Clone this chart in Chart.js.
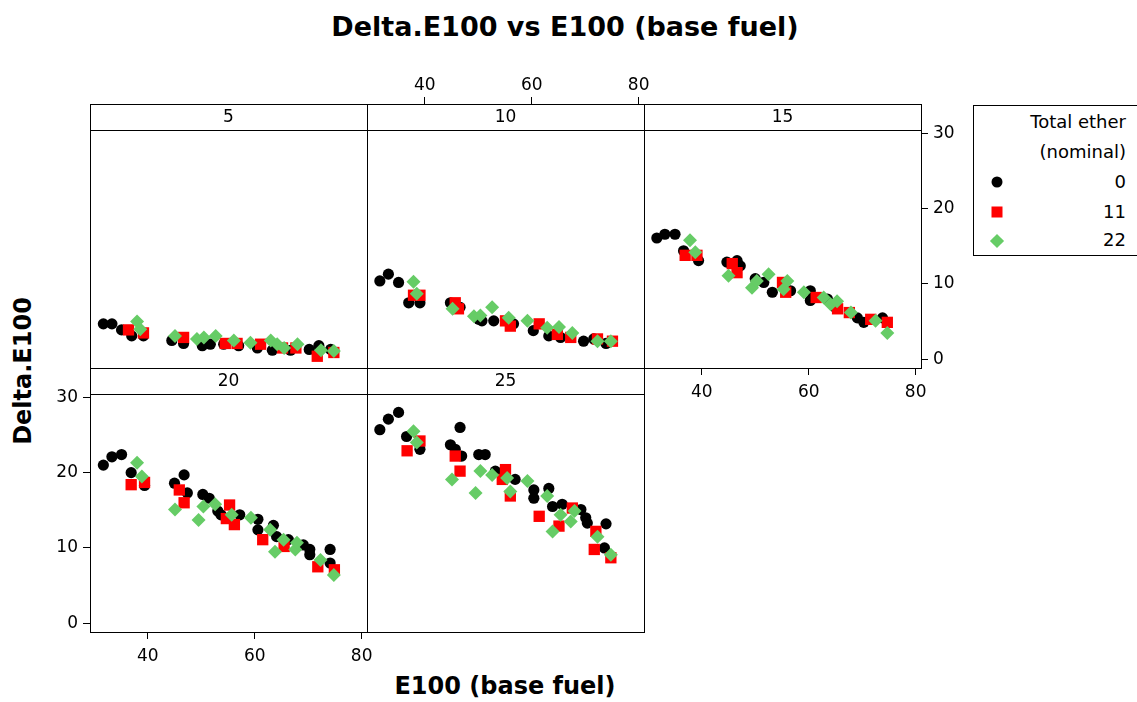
<!DOCTYPE html>
<html>
<head>
<meta charset="utf-8">
<script src="https://cdn.jsdelivr.net/npm/chart.js@4.4.1/dist/chart.umd.min.js"></script>
<style>
    body { margin: 0; width: 1137px; height: 702px; overflow: hidden; background: #fff; position: relative; font-family: "DejaVu Sans", sans-serif; color: #000; }
    canvas { position: absolute; }
    .title { position: absolute; font-weight: bold; white-space: nowrap; transform: translate(-50%, -50%); }
    #legend { position: absolute; left: 973px; top: 105px; width: 170px; height: 151px; border: 1px solid #000; box-sizing: border-box; }
    #legend .row { position: absolute; right: 16px; height: 22px; line-height: 22px; font-size: 18px; white-space: nowrap; text-align: right; }
    #legend .sym { position: absolute; transform: translate(-50%, -50%); }
</style>
</head>
<body>

<div class="title" style="left:565px; top:26px; font-size:27px;">Delta.E100 vs E100 (base fuel)</div>
<div class="title" style="left:505px; top:686px; font-size:24px;">E100 (base fuel)</div>
<div class="title" style="left:23px; top:371px; font-size:24px; transform: translate(-50%, -50%) rotate(-90deg);">Delta.E100</div>

<div id="legend">
    <div class="row" style="top:5px;">Total ether</div>
    <div class="row" style="top:35px;">(nominal)</div>
    <div class="row" style="top:65px;">0</div>
    <div class="row" style="top:95px;">11</div>
    <div class="row" style="top:123px;">22</div>
    <div class="sym" style="left:23px; top:76px; width:11px; height:11px; border-radius:50%; background:#000;"></div>
    <div class="sym" style="left:23px; top:106px; width:11px; height:11px; background:#FF0000;"></div>
    <div class="sym" style="left:23px; top:135px; width:10px; height:10px; background:#66CC66; transform: translate(-50%, -50%) rotate(45deg);"></div>
</div>

<script>
// ==========================================
// DATA (E100 base fuel, Delta.E100) per ethanol level and ether group
// ==========================================

const xTicks = [40, 60, 80];
const yTicks = [0, 10, 20, 30];
const groupLabels = ['0', '11', '22'];
const panelLabels = ['5', '10', '15', '20', '25'];

// ethanol 5
const e5Ether0 = [[31.7,4.7],[33.3,4.7],[35.1,3.9],[37.0,3.1],[39.2,3.1],[44.5,2.5],[46.7,2.1],[50.2,1.8],[51.7,2.0],[54.2,2.0],[57.0,1.8],[60.5,1.5],[63.3,1.2],[66.7,1.2],[70.2,1.3],[72.0,1.8],[74.2,1.3]];
const e5Ether11 = [[36.4,3.9],[39.2,3.5],[46.7,2.9],[54.5,2.1],[56.7,2.1],[61.1,2.0],[65.2,1.5],[67.7,1.5],[71.7,0.4],[74.8,0.9]];
const e5Ether22 = [[38.0,5.0],[38.6,4.0],[45.1,3.1],[49.2,2.7],[50.5,2.9],[52.7,3.1],[56.1,2.5],[59.2,2.2],[63.0,2.5],[64.2,2.0],[65.5,1.5],[68.0,2.0],[72.4,1.2],[74.8,1.1]];

// ethanol 10
const e10Ether0 = [[31.6,10.4],[33.2,11.3],[35.1,10.2],[37.0,7.5],[39.1,7.5],[44.8,7.5],[46.6,6.9],[50.1,5.3],[50.7,5.1],[52.9,5.1],[56.6,4.7],[60.3,3.8],[63.2,3.1],[65.4,2.9],[69.7,2.4],[71.6,2.7],[73.9,2.1]];
const e10Ether11 = [[37.9,8.5],[39.1,8.5],[45.7,7.5],[46.3,6.7],[55.1,5.1],[56.0,4.4],[61.4,4.7],[64.8,3.3],[67.3,2.9],[72.3,2.7],[75.1,2.4]];
const e10Ether22 = [[37.9,10.3],[38.5,8.7],[45.2,6.7],[49.2,5.7],[50.4,5.8],[52.6,6.9],[55.7,5.5],[59.2,5.1],[62.9,4.2],[65.1,4.3],[67.6,3.5],[72.3,2.4],[74.8,2.4]];

// ethanol 15
const e15Ether0 = [[31.6,16.1],[33.1,16.6],[35.0,16.6],[36.6,14.4],[39.4,13.1],[44.7,12.9],[46.6,13.1],[47.2,12.4],[50.0,10.7],[51.6,10.2],[53.2,8.9],[56.6,9.1],[60.3,9.1],[60.3,7.8],[63.5,8.0],[65.0,6.9],[69.1,5.5],[70.3,4.9],[73.8,5.5]];
const e15Ether11 = [[36.9,13.8],[39.1,13.8],[45.7,12.7],[46.6,11.5],[55.1,10.2],[55.7,8.9],[61.4,8.2],[65.4,6.7],[67.6,6.2],[71.6,5.3],[74.7,4.9]];
const e15Ether22 = [[37.8,15.8],[38.8,14.2],[45.0,11.1],[49.4,9.5],[50.3,10.4],[52.5,11.3],[55.3,9.3],[56.0,10.4],[59.1,8.9],[62.8,8.2],[64.1,7.3],[65.3,7.7],[67.9,6.2],[72.5,5.1],[74.7,3.5]];

// ethanol 20
const e20Ether0 = [[31.7,21.0],[33.3,22.1],[35.1,22.4],[36.9,20.0],[39.4,18.3],[45.0,18.6],[46.8,19.7],[47.4,17.3],[50.3,17.1],[51.5,16.6],[53.1,14.9],[53.7,14.4],[57.2,14.4],[60.6,13.8],[60.6,12.4],[63.5,13.0],[64.1,11.5],[66.3,11.1],[69.1,10.4],[70.3,9.8],[70.3,9.1],[74.1,9.8],[74.1,8.0]];
const e20Ether11 = [[36.9,18.4],[39.4,18.7],[45.9,17.7],[46.8,16.0],[55.3,15.7],[54.7,13.9],[56.2,13.1],[61.5,11.1],[65.5,10.2],[71.8,7.5],[74.9,7.1]];
const e20Ether22 = [[38.0,21.3],[38.9,19.5],[45.1,15.1],[49.5,13.7],[50.4,15.5],[52.6,15.8],[55.7,14.4],[59.3,14.0],[62.9,12.4],[63.8,9.5],[65.4,11.1],[67.6,9.8],[67.9,10.7],[72.3,8.4],[74.8,6.4]];

// ethanol 25
const e25Ether0 = [[31.6,25.7],[33.2,27.1],[35.1,28.0],[36.6,24.8],[39.1,23.1],[44.8,23.7],[45.7,23.1],[46.6,26.0],[46.9,22.2],[50.1,22.4],[51.3,22.4],[53.2,20.2],[56.9,19.1],[60.4,17.7],[60.4,16.6],[63.2,17.9],[63.9,15.5],[65.7,15.8],[69.2,15.1],[70.1,14.0],[70.4,13.3],[73.9,13.2],[73.6,10.0]];
const e25Ether11 = [[36.7,22.9],[39.1,24.2],[45.7,22.2],[46.6,20.2],[55.1,20.4],[54.5,19.1],[56.0,16.9],[61.4,14.2],[65.1,12.9],[67.6,15.3],[72.0,12.2],[71.7,9.8],[74.8,8.7]];
const e25Ether22 = [[37.9,25.5],[38.5,24.0],[45.1,19.1],[49.5,17.3],[50.4,20.2],[52.6,19.7],[55.4,19.3],[56.0,17.5],[59.2,18.9],[62.9,16.9],[63.9,12.2],[65.4,14.4],[67.3,13.5],[68.0,14.9],[72.3,11.5],[74.8,9.1]];

// ==========================================
// LAYOUT
// ==========================================

const X_MIN = 29.2, X_MAX = 81;
const Y_MIN = -1.16, Y_MAX = 30.44;
const PANEL_W = 277, PLOT_H = 238, STRIP_H = 26;
const M = 50;                       // room round each panel for its axes
const colLeft = [90, 367, 644];
const rowTop = [104, 368];
// the strip sits inside the chart area, so stretch the y range over it
const Y_TOP = Y_MAX + STRIP_H * (Y_MAX - Y_MIN) / PLOT_H;

const tickFont = { family: 'DejaVu Sans', size: 17 };
const groupStyle = [
    { color: '#000000', pointStyle: 'circle', radius: 5.6, order: 2 },
    { color: '#FF0000', pointStyle: 'rect', radius: 8, order: 1 },
    { color: '#66CC66', pointStyle: 'rectRot', radius: 7, order: 0 }
];

const panels = [
    { label: panelLabels[0], col: 0, row: 0, groups: [e5Ether0, e5Ether11, e5Ether22], axes: [] },
    { label: panelLabels[1], col: 1, row: 0, groups: [e10Ether0, e10Ether11, e10Ether22], axes: ['top'] },
    { label: panelLabels[2], col: 2, row: 0, groups: [e15Ether0, e15Ether11, e15Ether22], axes: ['bottom', 'right'] },
    { label: panelLabels[3], col: 0, row: 1, groups: [e20Ether0, e20Ether11, e20Ether22], axes: ['bottom', 'left'] },
    { label: panelLabels[4], col: 1, row: 1, groups: [e25Ether0, e25Ether11, e25Ether22], axes: [] }
];

// draws the strip (panel label) across the top of the chart area
const stripPlugin = {
    id: 'strip',
    afterDraw(chart, args, opts) {
        const { ctx, chartArea } = chart;
        const y = Math.round(chartArea.top + STRIP_H) + 0.5;
        ctx.save();
        ctx.strokeStyle = '#000';
        ctx.lineWidth = 1;
        ctx.beginPath();
        ctx.moveTo(chartArea.left, y);
        ctx.lineTo(chartArea.right, y);
        ctx.stroke();
        ctx.fillStyle = '#000';
        ctx.font = '17px "DejaVu Sans"';
        ctx.textAlign = 'center';
        ctx.textBaseline = 'middle';
        ctx.fillText(opts.label, (chartArea.left + chartArea.right) / 2, chartArea.top + STRIP_H / 2 + 1);
        ctx.restore();
    }
};

const makeAxis = (axis, position, show) => ({
    type: 'linear',
    axis: axis,
    position: position,
    min: axis === 'x' ? X_MIN : Y_MIN,
    max: axis === 'x' ? X_MAX : Y_TOP,
    afterBuildTicks: s => { s.ticks = (axis === 'x' ? xTicks : yTicks).map(v => ({ value: v })); },
    afterFit: s => { if (axis === 'x') s.height = M; else s.width = M; },
    grid: { display: true, drawOnChartArea: false, drawTicks: show, tickLength: 7, color: '#000', lineWidth: 1 },
    border: { display: true, color: '#000', width: 1 },
    ticks: { display: show, padding: position === 'top' ? 1 : (position === 'bottom' ? 7 : 5), color: '#000', font: tickFont }
});

panels.forEach(p => {
    const canvas = document.createElement('canvas');
    canvas.width = PANEL_W + 2 * M;
    canvas.height = PLOT_H + STRIP_H + 2 * M;
    canvas.style.left = (colLeft[p.col] - M) + 'px';
    canvas.style.top = (rowTop[p.row] - M) + 'px';
    document.body.appendChild(canvas);

    new Chart(canvas.getContext('2d'), {
        type: 'scatter',
        data: {
            datasets: p.groups.map((pts, i) => ({
                label: groupLabels[i],
                data: pts.map(([x, y]) => ({ x, y })),
                pointStyle: groupStyle[i].pointStyle,
                pointRadius: groupStyle[i].radius,
                pointBackgroundColor: groupStyle[i].color,
                pointBorderWidth: 0,
                order: groupStyle[i].order
            }))
        },
        options: {
            responsive: false,
            animation: false,
            devicePixelRatio: 1,
            layout: { padding: 0, autoPadding: false },
            plugins: {
                legend: { display: false },
                tooltip: { enabled: false },
                strip: { label: p.label }
            },
            scales: {
                x: makeAxis('x', 'bottom', p.axes.includes('bottom')),
                x2: makeAxis('x', 'top', p.axes.includes('top')),
                y: makeAxis('y', 'left', p.axes.includes('left')),
                y2: makeAxis('y', 'right', p.axes.includes('right'))
            }
        },
        plugins: [stripPlugin]
    });
});
</script>
</body>
</html>
